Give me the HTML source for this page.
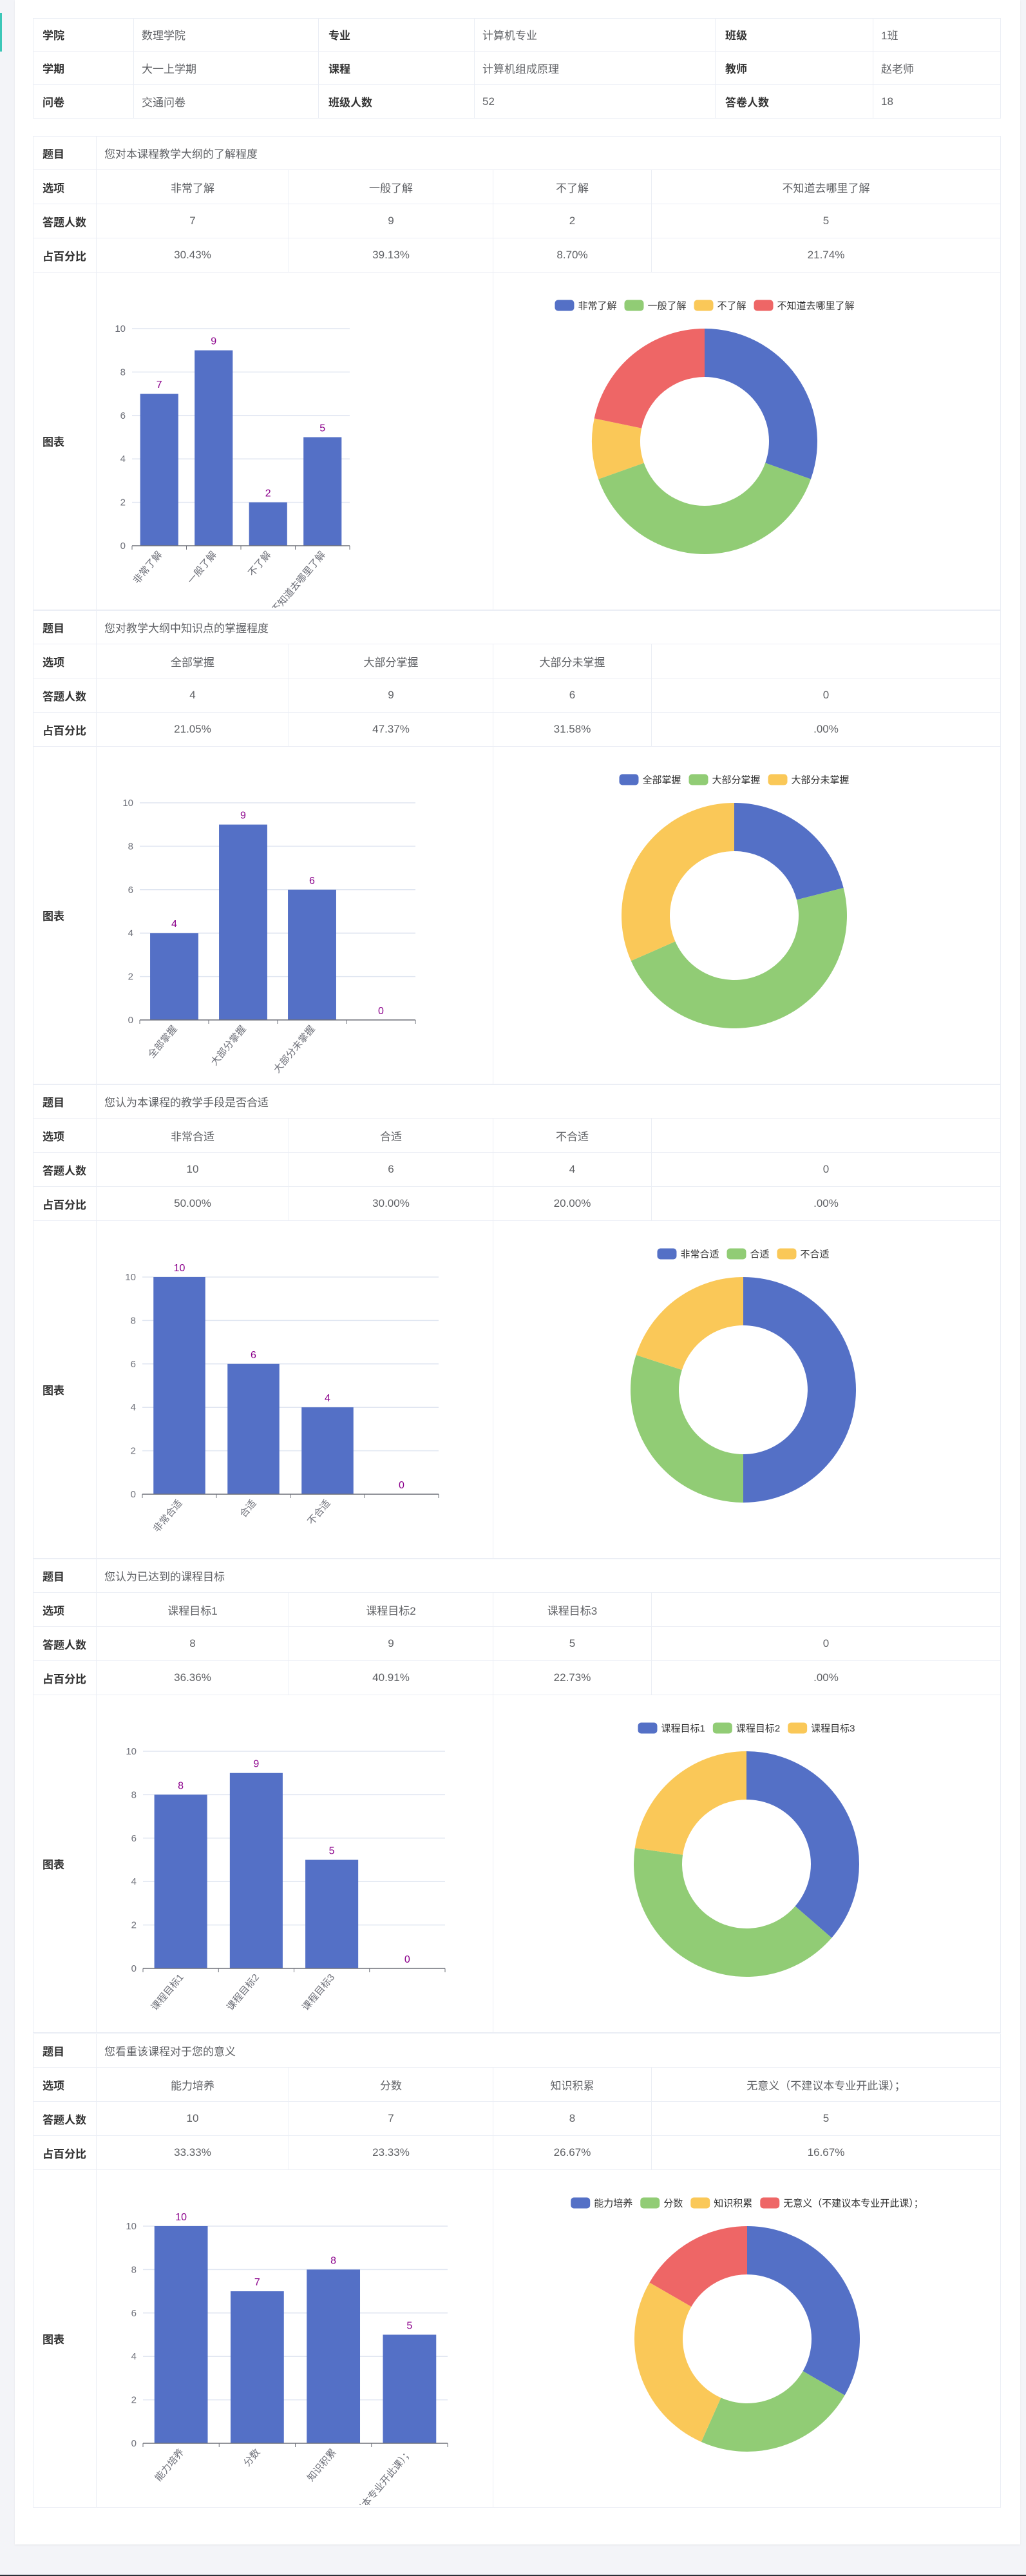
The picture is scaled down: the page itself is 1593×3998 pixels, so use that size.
<!DOCTYPE html>
<html><head><meta charset="utf-8">
<style>
html,body{margin:0;padding:0}
body{width:1593px;height:3998px;background:#f3f4f8;position:relative;overflow:hidden;font-family:"Liberation Sans","Noto Sans CJK SC",sans-serif}
#panel{position:absolute;left:23px;top:0;width:1561px;height:3949px;background:#fff;box-shadow:0 1px 3px rgba(0,0,0,.06)}
#accent{position:absolute;left:0;top:20px;width:3px;height:60px;background:#3cc7b8}
.c{position:absolute;box-sizing:border-box;border-right:1px solid #ebeef5;border-bottom:1px solid #ebeef5;font-size:17px;color:#606266;display:flex;align-items:center;white-space:nowrap;overflow:hidden}
.l{font-weight:bold;color:#333;padding-left:15px}
.v{padding-left:12px}
.ce{justify-content:center}
.tb{position:absolute;border-top:1px solid #ebeef5;border-left:1px solid #ebeef5;box-sizing:border-box}
svg text{font-family:"Liberation Sans","Noto Sans CJK SC",sans-serif}
#bottombar{position:absolute;left:0;top:3996px;width:1593px;height:2px;background:#2b3038}
</style></head>
<body>
<div id="panel"></div>
<div id="accent"></div>
<div id="root"></div>
<div id="bottombar"></div>
<script>
// ---- header data ----
var headerLabels = [["学院","专业","班级"],["学期","课程","教师"],["问卷","班级人数","答卷人数"]];
var headerValues = [["数理学院","计算机专业","1班"],["大一上学期","计算机组成原理","赵老师"],["交通问卷","52","18"]];

// ---- section data ----
var q1Title = "您对本课程教学大纲的了解程度";
var q1Options = ["非常了解","一般了解","不了解","不知道去哪里了解"];
var q1Counts = [7,9,2,5];
var q1Pcts = ["30.43%","39.13%","8.70%","21.74%"];

var q2Title = "您对教学大纲中知识点的掌握程度";
var q2Options = ["全部掌握","大部分掌握","大部分未掌握",""];
var q2Counts = [4,9,6,0];
var q2Pcts = ["21.05%","47.37%","31.58%",".00%"];

var q3Title = "您认为本课程的教学手段是否合适";
var q3Options = ["非常合适","合适","不合适",""];
var q3Counts = [10,6,4,0];
var q3Pcts = ["50.00%","30.00%","20.00%",".00%"];

var q4Title = "您认为已达到的课程目标";
var q4Options = ["课程目标1","课程目标2","课程目标3",""];
var q4Counts = [8,9,5,0];
var q4Pcts = ["36.36%","40.91%","22.73%",".00%"];

var q5Title = "您看重该课程对于您的意义";
var q5Options = ["能力培养","分数","知识积累","无意义（不建议本专业开此课）；"];
var q5Counts = [10,7,8,5];
var q5Pcts = ["33.33%","23.33%","26.67%","16.67%"];

var yTicks = [0,2,4,6,8,10];
var pieColors = ["#5470c6","#91cc75","#fac858","#ee6666"];

var root = document.getElementById('root');
var NS = "http://www.w3.org/2000/svg";

function cell(x1,y1,x2,y2,text,cls){
  var d=document.createElement('div');
  d.className='c '+cls;
  d.style.left=x1+'px';d.style.top=y1+'px';d.style.width=(x2-x1)+'px';d.style.height=(y2-y1)+'px';
  d.textContent=text;
  root.appendChild(d);
  return d;
}
function box(x1,y1,x2,y2){
  var d=document.createElement('div');d.className='tb';
  d.style.left=x1+'px';d.style.top=y1+'px';d.style.width=(x2-x1)+'px';d.style.height=(y2-y1)+'px';
  root.appendChild(d);return d;
}

// header table
var hb=box(51,28,1554,184);


var hc=[51,208,495,737,1111,1356,1554], hr=[28,80,132,184];
for(var r=0;r<3;r++){for(var k=0;k<3;k++){
  var a=cell(hc[2*k],hr[r],hc[2*k+1],hr[r+1],headerLabels[r][k],'l');
  
  
  var b=cell(hc[2*k+1],hr[r],hc[2*k+2],hr[r+1],headerValues[r][k],'v');
  
  
}}

function svgEl(tag,attrs,parent){var e=document.createElementNS(NS,tag);for(var k in attrs)e.setAttribute(k,attrs[k]);parent.appendChild(e);return e;}

function section(top,title,options,counts,pcts,plotL,plotR,donutCx,idx){
  var sb=box(51,top,1554,top+736);
  
  
  var oc=[150,449,766,1012,1554];
  var rows=[top,top+53,top+106,top+159,top+212];
  var t1=cell(51,rows[0],150,rows[1],'题目','l');
  
  
  var t2=cell(150,rows[0],1554,rows[1],title,'v');
  
  
  var labels=['选项','答题人数','占百分比'];
  var data=[options,counts,pcts];
  for(var r=0;r<3;r++){
    var lc=cell(51,rows[r+1],150,rows[r+2],labels[r],'l');
    
    
    for(var i=0;i<4;i++){
      var vc=cell(oc[i],rows[r+1],oc[i+1],rows[r+2],String(data[r][i]),'ce');
      
      
    }
  }
  var ct=top+212, cb=top+736;
  var gl=cell(51,ct,150,cb,'图表','l');
  
  
  var bc=cell(150,ct,766,cb,'','');
  
  
  var pc=cell(766,ct,1554,cb,'','');
  
  

  // bar chart
  var svg=svgEl('svg',{width:1593,height:520,style:'position:absolute;left:0;top:'+ct+'px;overflow:hidden'},root);
  
  
  var y0=424, y10=87, maxV=10;
  function ys(v){return y0-(v/maxV)*(y0-y10);}
  var n=options.length, cw=(plotR-plotL)/n;
  function xs(i){return plotL+cw*(i+0.5);}
  yTicks.forEach(function(t){
    if(t>0){var g=svgEl('line',{x1:plotL,x2:plotR,y1:ys(t),y2:ys(t),stroke:'#e0e6f1','stroke-width':1.5},svg);
    
    }
    var tl=svgEl('text',{x:plotL-10,y:ys(t)+5,'text-anchor':'end','font-size':15,fill:'#6e7079'},svg);
    tl.textContent=t;
    
    
  });
  counts.forEach(function(v,i){
    var bw=cw*0.7;
    var rect=svgEl('rect',{x:xs(i)-bw/2,y:ys(v),width:bw,height:y0-ys(v),fill:'#5470c6'},svg);
    
    
    var vl=svgEl('text',{x:xs(i),y:ys(v)-9,'text-anchor':'middle','font-size':16,fill:'#8b008b'},svg);
    vl.textContent=v;
    
    
    if(options[i]){
      var xl=svgEl('text',{x:0,y:0,'text-anchor':'end','font-size':15,fill:'#6e7079',transform:'translate('+(xs(i)+5)+','+(y0+14)+') rotate(-50)'},svg);
      xl.textContent=options[i];
      
      
    }
  });
  var ax=svgEl('line',{x1:plotL,x2:plotR,y1:y0,y2:y0,stroke:'#6e7079','stroke-width':1.5},svg);
  
  
  for(var i=0;i<=n;i++){
    var tk=svgEl('line',{x1:plotL+cw*i,x2:plotL+cw*i,y1:y0,y2:y0+6,stroke:'#6e7079','stroke-width':1},svg);
    
    
  }

  // donut
  var cy=262, R=175, r0=100;
  var items=[];for(var i=0;i<n;i++){if(options[i])items.push(i);}
  var total=0;items.forEach(function(i){total+=counts[i];});
  var ang=-Math.PI/2;
  items.forEach(function(i){
    var a2=ang+counts[i]/total*2*Math.PI;
    if(counts[i]>0){
      var large=(a2-ang)>Math.PI?1:0;
      var p='M'+(donutCx+R*Math.cos(ang))+','+(cy+R*Math.sin(ang))+
        ' A'+R+','+R+' 0 '+large+' 1 '+(donutCx+R*Math.cos(a2))+','+(cy+R*Math.sin(a2))+
        ' L'+(donutCx+r0*Math.cos(a2))+','+(cy+r0*Math.sin(a2))+
        ' A'+r0+','+r0+' 0 '+large+' 0 '+(donutCx+r0*Math.cos(ang))+','+(cy+r0*Math.sin(ang))+' Z';
      var sl=svgEl('path',{d:p,fill:pieColors[i%4]},svg);
      
      
    }
    ang=a2;
  });
  // legend
  var lg=svgEl('g',{},svg);
  
  
  var x=0, ly=51;
  items.forEach(function(i){
    var sw=svgEl('rect',{x:x,y:ly-8.5,width:30,height:17,rx:5,fill:pieColors[i%4]},lg);
    
    
    var tx=svgEl('text',{x:x+36,y:ly+5.5,'font-size':15,fill:'#333'},lg);
    tx.textContent=options[i];
    
    
    var w=tx.getComputedTextLength();
    x+=36+w+12;
  });
  x-=12;
  lg.setAttribute('transform','translate('+(donutCx-x/2)+',0)');
}

section(211,q1Title,q1Options,q1Counts,q1Pcts,205,543,1094,1);
section(947,q2Title,q2Options,q2Counts,q2Pcts,217,645,1140,2);
section(1683,q3Title,q3Options,q3Counts,q3Pcts,221,681,1154,3);
section(2419,q4Title,q4Options,q4Counts,q4Pcts,222,691,1159,4);
section(3156,q5Title,q5Options,q5Counts,q5Pcts,222,695,1160,5);
</script>
</body></html>
